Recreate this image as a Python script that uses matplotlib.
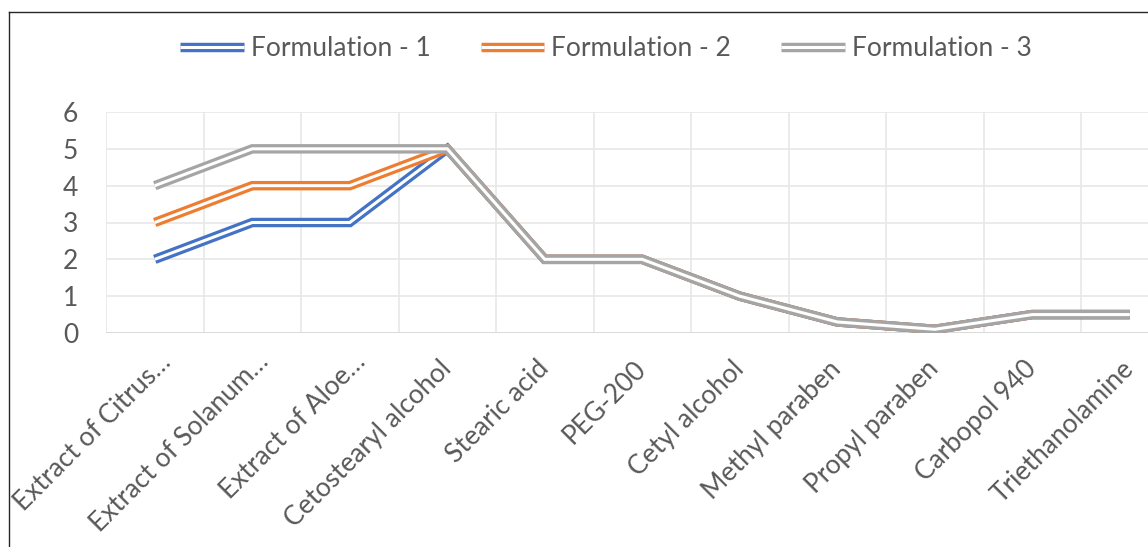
import matplotlib
matplotlib.use("Agg")
import matplotlib.pyplot as plt
from matplotlib.lines import Line2D
from matplotlib.legend_handler import HandlerBase
from matplotlib.transforms import ScaledTranslation
import numpy as np

categories = [
    "Extract of Citrus…", "Extract of Solanum…", "Extract of Aloe…",
    "Cetostearyl alcohol", "Stearic acid", "PEG-200", "Cetyl alcohol",
    "Methyl paraben", "Propyl paraben", "Carbopol 940", "Triethanolamine",
]
formulation_1 = [2, 3, 3, 5, 2, 2, 1, 0.3, 0.1, 0.5, 0.5]
formulation_2 = [3, 4, 4, 5, 2, 2, 1, 0.3, 0.1, 0.5, 0.5]
formulation_3 = [4, 5, 5, 5, 2, 2, 1, 0.3, 0.1, 0.5, 0.5]
series_names = ["Formulation - 1", "Formulation - 2", "Formulation - 3"]
series_colors = ["#4472C4", "#ED7D31", "#A5A5A5"]
y_ticks = [0, 1, 2, 3, 4, 5, 6]

plt.rcParams["font.family"] = ["Lato", "DejaVu Sans"]
TEXT = "#595959"
GRID = "#E8E8E8"
FS = 19

fig = plt.figure(figsize=(11.48, 5.47), dpi=100)
ax = fig.add_axes([106 / 1148, 1 - 333 / 547, 1072.5 / 1148, 221 / 547])

# compound "double" stroke: coloured band with a white core
OUTER = 6.8
INNER = 2.2

x = np.arange(len(categories))
for vals, col in zip([formulation_1, formulation_2, formulation_3], series_colors):
    ax.plot(x, vals, color=col, lw=OUTER, solid_joinstyle="miter",
            solid_capstyle="butt", zorder=3)
    ax.plot(x, vals, color="white", lw=INNER, solid_joinstyle="miter",
            solid_capstyle="butt", zorder=3)

ax.set_xlim(-0.5, len(categories) - 0.5)
ax.set_ylim(0, 6)
ax.set_yticks(y_ticks)
ax.set_yticklabels([str(t) for t in y_ticks], fontsize=FS, color=TEXT)
ax.set_xticks(x)
ax.set_xticklabels(categories, rotation=45, ha="right", va="center",
                   rotation_mode="anchor", fontsize=FS, color=TEXT)
ax.tick_params(axis="both", length=0)
ax.tick_params(axis="y", pad=20)
ax.tick_params(axis="x", pad=23)

# truncated labels sit a little further right and higher
for lbl in ax.get_xticklabels():
    if lbl.get_text().endswith("…"):
        lbl.set_transform(lbl.get_transform() +
                          ScaledTranslation(12 / 100, 7 / 100, fig.dpi_scale_trans))

for y in y_ticks[1:]:
    ax.axhline(y, color=GRID, lw=1.2, zorder=1)
for b in np.arange(-0.5, len(categories), 1.0):
    ax.axvline(b, color=GRID, lw=1.2, zorder=1)
ax.axhline(0, color="#D9D9D9", lw=1.4, zorder=2)
for s in ax.spines.values():
    s.set_visible(False)


class DoubleLineHandler(HandlerBase):
    def create_artists(self, legend, orig_handle, xdescent, ydescent,
                       width, height, fontsize, trans):
        yc = height / 2 - ydescent
        col = orig_handle.get_color()
        a = Line2D([0, width], [yc, yc], color=col, lw=OUTER,
                   solid_capstyle="butt", transform=trans)
        b = Line2D([0, width], [yc, yc], color="white", lw=INNER,
                   solid_capstyle="butt", transform=trans)
        return [a, b]


handles = [Line2D([], [], color=c) for c in series_colors]
leg = fig.legend(handles, series_names, loc="center", ncol=3,
                 bbox_to_anchor=(606 / 1148, 1 - 49 / 547), frameon=False,
                 fontsize=FS, handlelength=2.4, handletextpad=0.27,
                 columnspacing=1.9, borderpad=0, borderaxespad=0,
                 handler_map={Line2D: DoubleLineHandler()})
for t in leg.get_texts():
    t.set_color(TEXT)

# outer chart border (left and top edges visible)
fig.add_artist(Line2D([9 / 1148, 9 / 1148], [0, 1 - 12 / 547],
                      transform=fig.transFigure, color="#262626", lw=1.0))
fig.add_artist(Line2D([9 / 1148, 1.0], [1 - 12 / 547, 1 - 12 / 547],
                      transform=fig.transFigure, color="#262626", lw=1.0))

fig.savefig("out.png", dpi=100)
